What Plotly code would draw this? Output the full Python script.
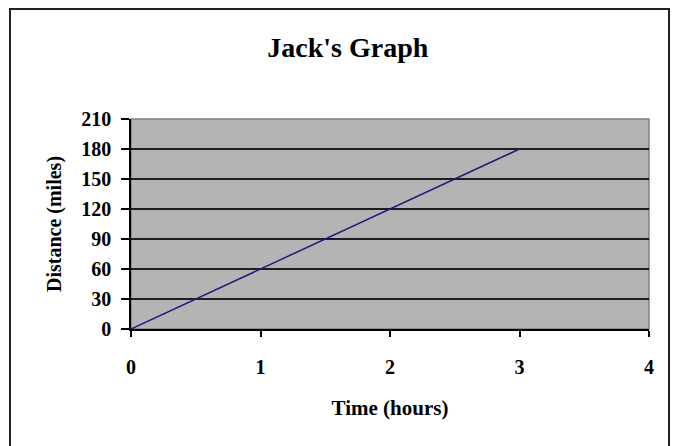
import plotly.graph_objects as go

# Jack's trip: elapsed time vs. distance covered
time_hours = [0, 1, 2, 3]
distance_miles = [0, 60, 120, 180]

x_ticks = [0, 1, 2, 3, 4]
y_ticks = [0, 30, 60, 90, 120, 150, 180, 210]

serif = "Liberation Serif, Times New Roman, serif"

fig = go.Figure()
fig.add_trace(go.Scatter(
    x=time_hours, y=distance_miles, mode="lines",
    line=dict(color="#1a1a80", width=1.5), showlegend=False,
    hoverinfo="skip",
))

W, H = 674, 446
L, R, T, B = 131, 25, 119, 117
pw, ph = W - L - R, H - T - B

fig.update_layout(
    width=W, height=H,
    margin=dict(l=L, r=R, t=T, b=B),
    paper_bgcolor="white",
    plot_bgcolor="#b4b4b4",
    title=dict(text="<b>Jack's Graph</b>", x=0.516, xanchor="center",
               y=1 - 47 / H, yanchor="middle",
               font=dict(family=serif, size=28, color="black")),
    font=dict(family=serif, color="black"),
)

fig.update_xaxes(
    range=[0, 4], tickvals=x_ticks, ticktext=[f"<b>{v}</b>" for v in x_ticks],
    showgrid=False, zeroline=False,
    showline=True, linecolor="black", linewidth=1.5,
    ticks="outside", ticklen=6, tickwidth=1.5, tickcolor="black",
    ticklabelstandoff=13,
    tickfont=dict(family=serif, size=20, color="black"),
    title=dict(text="<b>Time (hours)</b>", standoff=24,
               font=dict(family=serif, size=21, color="black")),
)
fig.update_yaxes(
    range=[0, 210], tickvals=y_ticks, ticktext=[f"<b>{v}</b>" for v in y_ticks],
    showgrid=True, gridcolor="#1e1e1e", gridwidth=1.5,
    zeroline=False,
    showline=True, linecolor="black", linewidth=1.5,
    ticks="outside", ticklen=8, tickwidth=1.5, tickcolor="black",
    ticklabelstandoff=6,
    tickfont=dict(family=serif, size=20, color="black"),
    title=dict(text="<b>Distance (miles)</b>", standoff=14,
               font=dict(family=serif, size=20, color="black")),
)

# grey frame around the plotting area (top and right edges)
fig.add_shape(type="rect", xref="paper", yref="paper", x0=0, x1=1, y0=0, y1=1,
              line=dict(color="#808080", width=1.5), layer="below")
# outer chart border
fig.add_shape(type="rect", xref="paper", yref="paper",
              x0=(10 - L) / pw, x1=(669 - L) / pw,
              y0=-(450 - (T + ph)) / ph, y1=1 + (T - 9) / ph,
              line=dict(color="#222222", width=2))

fig.write_html("out.html")
